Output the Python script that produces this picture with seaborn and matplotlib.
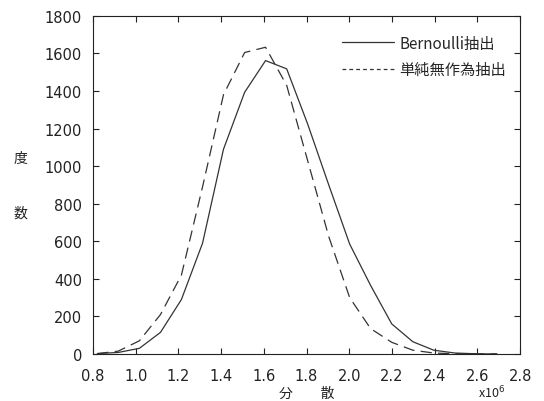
import numpy as np
import pandas as pd
import matplotlib
matplotlib.use("Agg")
import matplotlib.pyplot as plt
import seaborn as sns

# Valores (centros de clase, en unidades de 10^6)
varianza = [0.82, 0.918, 1.017, 1.116, 1.214, 1.313, 1.411, 1.51, 1.608, 1.707,
            1.805, 1.904, 2.002, 2.10, 2.199, 2.298, 2.396, 2.495, 2.594, 2.692]
frec_bernoulli = [2, 8, 30, 115, 290, 590, 1090, 1393, 1562, 1518,
                  1225, 900, 585, 365, 160, 65, 20, 5, 1, 0]
frec_simple = [2, 15, 70, 210, 420, 890, 1380, 1605, 1633, 1430,
               1030, 625, 300, 135, 62, 20, 5, 1, 0, 0]
metodos = ["Bernoulli抽出", "単純無作為抽出"]
xticks = [0.8, 1.0, 1.2, 1.4, 1.6, 1.8, 2.0, 2.2, 2.4, 2.6, 2.8]
yticks = [0, 200, 400, 600, 800, 1000, 1200, 1400, 1600, 1800]

df = pd.DataFrame({
    "x": varianza + varianza,
    "freq": frec_bernoulli + frec_simple,
    "metodo": [metodos[0]] * len(varianza) + [metodos[1]] * len(varianza),
})

sns.set_style("ticks")
plt.rcParams["font.family"] = ["Noto Sans CJK JP", "DejaVu Sans"]
plt.rcParams["axes.linewidth"] = 0.8

fig = plt.figure(figsize=(5.44, 4.02), dpi=100)
ax = fig.add_axes([0.171, 0.117, 0.785, 0.841])

sns.lineplot(data=df, x="x", y="freq", style="metodo", style_order=metodos,
             dashes={metodos[0]: "", metodos[1]: (9, 5)},
             color="#333333", linewidth=0.9, ax=ax)

ax.set_xlim(0.8, 2.8)
ax.set_ylim(0, 1800)
ax.set_xticks(xticks)
ax.set_xticklabels([f"{t:.1f}" for t in xticks])
ax.set_yticks(yticks)
ax.tick_params(direction="in", top=True, right=True, length=4, width=0.8,
               labelsize=10.5, colors="#222222")
ax.tick_params(axis="y", pad=8)
ax.tick_params(axis="x", pad=10)
for lab in ax.get_xticklabels() + ax.get_yticklabels():
    lab.set_family("DejaVu Sans")
for s in ax.spines.values():
    s.set_visible(True)
    s.set_color("#222222")

ax.set_xlabel("分　　散", fontsize=10, color="#222222", labelpad=2)
ax.set_ylabel("度\n\n\n数", fontsize=10, color="#222222", rotation=0,
              va="center", ha="center", linespacing=1.38)
ax.yaxis.set_label_coords(-0.171, 0.5)
ax.text(0.965, -0.112, r"x10$^6$", transform=ax.transAxes, ha="right",
        va="center", fontsize=9, color="#222222")

leg = ax.legend(loc="upper right", bbox_to_anchor=(1.0, 0.985), frameon=False,
                handlelength=3.4, handletextpad=0.35, fontsize=11,
                labelspacing=0.6)
leg.get_lines()[1].set_dashes((3, 2.5))

fig.savefig("out.png", dpi=100)
